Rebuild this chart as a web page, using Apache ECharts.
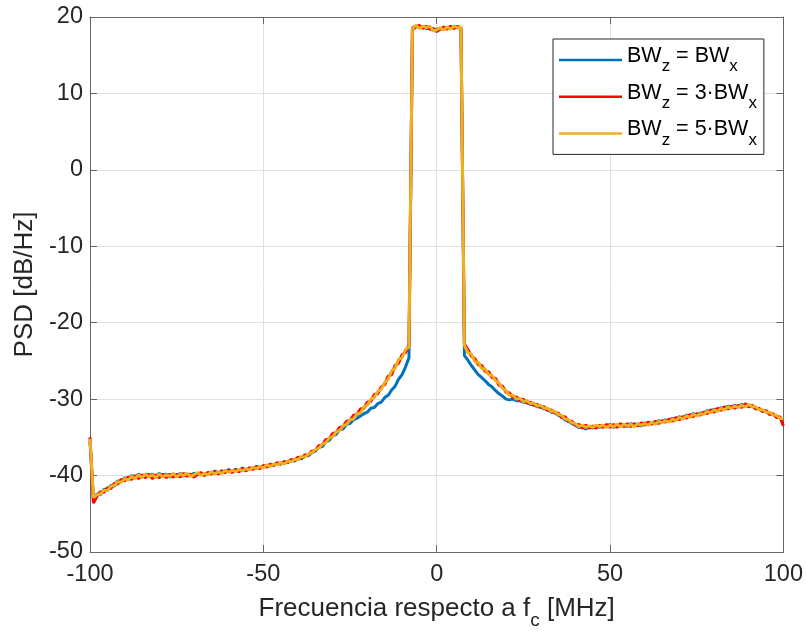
<!DOCTYPE html>
<html>
<head>
<meta charset="utf-8">
<script src="https://cdn.jsdelivr.net/npm/echarts@6/dist/echarts.min.js"></script>
<style>
  html, body { margin: 0; padding: 0; background: #ffffff; }
  #chart { width: 806px; height: 636px; }
</style>
</head>
<body>
<div id="chart"></div>
<script>
// Frequency bins (MHz offset from the carrier), one every 1 MHz from -100 to 100
const FREQ_START_MHZ = -100;
const FREQ_STEP_MHZ = 1;

// PSD [dB/Hz] for BWz = BWx
const psdBwx1 = [
  -35.6,-43.2,-42.4,-42.5,-41.8,-41.9,-41.3,-41.4,-40.7,-40.8,
  -40.3,-40.5,-40.0,-40.3,-39.8,-40.2,-39.8,-40.1,-39.8,-40.2,
  -39.7,-40.1,-39.8,-40.2,-39.8,-40.1,-39.7,-40.1,-39.8,-40.0,
  -39.7,-39.9,-39.7,-39.9,-39.6,-39.7,-39.4,-39.7,-39.4,-39.5,
  -39.2,-39.5,-39.2,-39.4,-39.0,-39.3,-39.0,-39.1,-38.8,-39.0,
  -38.7,-38.8,-38.6,-38.6,-38.4,-38.5,-38.2,-38.3,-38.0,-38.1,
  -37.8,-37.8,-37.4,-37.4,-37.0,-36.8,-36.3,-36.2,-35.6,-35.4,
  -34.8,-34.6,-34.0,-33.9,-33.3,-33.2,-32.7,-32.5,-32.2,-31.9,
  -31.7,-31.2,-31.1,-30.6,-30.4,-29.8,-29.5,-28.8,-28.3,-27.4,
  -26.8,-25.8,-24.6,18.6,18.8,18.6,18.7,18.5,18.6,18.3,
  18.4,18.5,18.4,18.6,18.5,18.7,18.6,18.6,-24.3,-24.9,
  -25.6,-26.2,-26.8,-27.2,-27.6,-28.1,-28.4,-28.9,-29.3,-29.6,
  -30.0,-30.1,-30.0,-30.2,-30.2,-30.4,-30.4,-30.7,-30.7,-31.0,
  -31.0,-31.3,-31.3,-31.7,-31.7,-32.1,-32.3,-32.7,-32.9,-33.2,
  -33.4,-33.7,-33.6,-33.9,-33.6,-33.8,-33.5,-33.7,-33.5,-33.6,
  -33.3,-33.7,-33.4,-33.5,-33.4,-33.6,-33.2,-33.5,-33.3,-33.5,
  -33.1,-33.3,-33.1,-33.2,-32.8,-33.0,-32.7,-32.9,-32.5,-32.7,
  -32.3,-32.5,-32.1,-32.3,-31.9,-32.1,-31.8,-31.9,-31.5,-31.7,
  -31.3,-31.5,-31.1,-31.3,-30.9,-31.1,-30.8,-31.0,-30.7,-30.9,
  -30.8,-30.9,-31.2,-31.3,-31.6,-31.6,-31.9,-32.0,-32.3,-32.4,
  -32.8
];

// PSD [dB/Hz] for BWz = 3·BWx
const psdBwx3 = [
  -35.0,-43.6,-42.7,-42.1,-42.2,-41.6,-41.7,-41.0,-41.1,-40.5,
  -40.7,-40.2,-40.5,-40.0,-40.4,-39.9,-40.3,-39.8,-40.4,-39.9,
  -40.3,-39.8,-40.3,-39.8,-40.2,-39.8,-40.2,-39.7,-40.1,-39.8,
  -40.2,-39.8,-39.6,-40.0,-39.6,-39.8,-39.5,-39.8,-39.4,-39.6,
  -39.3,-39.6,-39.2,-39.5,-39.1,-39.4,-39.0,-39.2,-38.8,-39.1,
  -38.7,-38.9,-38.5,-38.7,-38.3,-38.5,-38.2,-38.3,-37.9,-38.0,
  -37.6,-37.7,-37.3,-37.3,-36.8,-36.7,-36.1,-36.0,-35.3,-35.2,
  -34.5,-34.4,-33.7,-33.6,-32.9,-32.8,-32.1,-32.0,-31.3,-31.2,
  -30.4,-30.3,-29.4,-29.3,-28.4,-28.1,-27.0,-26.8,-25.6,-25.3,
  -24.2,-23.9,-22.9,18.4,18.7,18.9,18.5,18.8,18.4,18.5,
  18.1,18.4,18.7,18.4,18.8,18.5,18.8,18.5,-22.8,-23.5,
  -24.4,-24.7,-25.5,-25.6,-26.4,-26.4,-27.2,-27.3,-28.2,-28.3,
  -29.1,-29.2,-29.8,-29.7,-30.2,-30.0,-30.5,-30.4,-30.8,-30.7,
  -31.1,-31.0,-31.5,-31.4,-31.8,-31.8,-32.4,-32.3,-32.9,-32.9,
  -33.4,-33.3,-33.8,-33.4,-33.8,-33.5,-33.8,-33.4,-33.7,-33.3,
  -33.7,-33.3,-33.7,-33.2,-33.6,-33.2,-33.6,-33.2,-33.5,-33.1,
  -33.4,-33.0,-33.3,-32.9,-33.2,-32.8,-33.0,-32.6,-32.9,-32.4,
  -32.7,-32.3,-32.5,-32.0,-32.3,-31.9,-32.1,-31.7,-31.9,-31.4,
  -31.7,-31.2,-31.5,-31.0,-31.3,-30.9,-31.2,-30.8,-31.1,-30.6,
  -31.0,-30.8,-31.3,-31.2,-31.6,-31.5,-32.0,-31.9,-32.4,-32.3,
  -33.5
];

// PSD [dB/Hz] for BWz = 5·BWx
const psdBwx5 = [
  -35.2,-42.9,-42.5,-42.4,-41.9,-42.0,-41.4,-41.3,-40.8,-40.9,
  -40.4,-40.6,-40.1,-40.4,-39.9,-40.3,-39.8,-40.2,-39.9,-40.3,
  -39.8,-40.2,-39.9,-40.1,-39.7,-40.2,-39.8,-40.0,-39.7,-40.1,
  -39.9,-39.6,-40.0,-39.7,-39.9,-39.5,-39.8,-39.5,-39.7,-39.3,
  -39.6,-39.3,-39.5,-39.2,-39.4,-39.1,-39.3,-38.9,-39.1,-38.8,
  -39.0,-38.6,-38.8,-38.5,-38.6,-38.3,-38.5,-38.1,-38.2,-37.9,
  -37.9,-37.5,-37.6,-37.2,-37.0,-36.6,-36.4,-35.9,-35.7,-35.1,
  -34.9,-34.3,-34.1,-33.5,-33.3,-32.7,-32.6,-31.9,-31.8,-31.0,
  -30.8,-30.0,-29.8,-29.0,-28.7,-27.8,-27.4,-26.3,-26.0,-24.8,
  -24.6,-23.5,-23.2,18.5,18.9,18.5,18.8,18.6,18.8,18.2,
  18.3,18.6,18.3,18.7,18.4,18.8,18.6,18.7,-23.0,-23.9,
  -24.1,-25.1,-25.2,-26.0,-26.1,-26.8,-26.9,-27.6,-27.9,-28.6,
  -28.9,-29.5,-29.5,-30.0,-29.9,-30.3,-30.2,-30.6,-30.5,-30.9,
  -30.8,-31.2,-31.2,-31.6,-31.6,-32.0,-32.1,-32.6,-32.7,-33.1,
  -33.2,-33.6,-33.4,-33.7,-33.5,-33.7,-33.4,-33.6,-33.4,-33.7,
  -33.4,-33.6,-33.3,-33.6,-33.3,-33.5,-33.3,-33.6,-33.2,-33.4,
  -33.2,-33.4,-33.0,-33.3,-32.9,-33.1,-32.8,-33.0,-32.6,-32.8,
  -32.4,-32.6,-32.2,-32.4,-32.0,-32.2,-31.9,-32.0,-31.6,-31.8,
  -31.4,-31.6,-31.2,-31.4,-31.0,-31.2,-30.9,-31.1,-30.8,-31.0,
  -30.7,-31.0,-31.0,-31.4,-31.4,-31.7,-31.7,-32.1,-32.1,-32.5,
  -32.6
];

const seriesNames = ['BWz = BWx', 'BWz = 3·BWx', 'BWz = 5·BWx'];
const seriesColors = ['#0072BD', '#FF0000', '#EDB120'];
// Legend entries with subscripts as rich text
const legendLabels = {
  'BWz = BWx': '{m|BW}{s|z}{m| = BW}{s|x}',
  'BWz = 3·BWx': '{m|BW}{s|z}{m| = 3\u00B7BW}{s|x}',
  'BWz = 5·BWx': '{m|BW}{s|z}{m| = 5\u00B7BW}{s|x}'
};

const xRange = [-100, 100];
const xTickStep = 50;
const yRange = [-50, 20];
const yTickStep = 10;

const FONT = '"Liberation Sans", Arial, Helvetica, sans-serif';
const TEXT_COLOR = '#262626';
const AXIS_COLOR = '#666666';
const GRID_COLOR = '#dfdfdf';

function toPoints(values) {
  return values.map((v, i) => [FREQ_START_MHZ + i * FREQ_STEP_MHZ, v]);
}

const chart = echarts.init(document.getElementById('chart'), null, { renderer: 'canvas' });

const baseAxis = {
  type: 'value',
  axisLine: { show: true, onZero: false, lineStyle: { color: AXIS_COLOR, width: 1 } },
  axisTick: { show: true, inside: true, length: 7, lineStyle: { color: AXIS_COLOR, width: 1 } }
};

chart.setOption({
  animation: false,
  backgroundColor: '#ffffff',
  grid: { left: 90, right: 22, top: 17, bottom: 84, containLabel: false },
  xAxis: [
    Object.assign({}, baseAxis, {
      position: 'bottom',
      min: xRange[0], max: xRange[1], interval: xTickStep,
      axisLabel: { fontFamily: FONT, fontSize: 23.5, color: TEXT_COLOR, margin: 11 },
      splitLine: { show: true, lineStyle: { color: GRID_COLOR, width: 1 } },
      name: '{m|Frecuencia respecto a f}{s|c}{m| [MHz]}',
      nameLocation: 'middle',
      nameGap: 44,
      nameTextStyle: {
        fontFamily: FONT, color: TEXT_COLOR, lineHeight: 34,
        rich: {
          m: { fontFamily: FONT, fontSize: 26, color: TEXT_COLOR, verticalAlign: 'top' },
          s: { fontFamily: FONT, fontSize: 19, color: TEXT_COLOR, verticalAlign: 'bottom' }
        }
      }
    }),
    Object.assign({}, baseAxis, {
      position: 'top',
      min: xRange[0], max: xRange[1], interval: xTickStep,
      axisLabel: { show: false },
      splitLine: { show: false }
    })
  ],
  yAxis: [
    Object.assign({}, baseAxis, {
      position: 'left',
      min: yRange[0], max: yRange[1], interval: yTickStep,
      axisLabel: { fontFamily: FONT, fontSize: 23.5, color: TEXT_COLOR, margin: 7 },
      splitLine: { show: true, lineStyle: { color: GRID_COLOR, width: 1 } },
      name: 'PSD [dB/Hz]',
      nameLocation: 'middle',
      nameRotate: 90,
      nameGap: 49,
      nameTextStyle: { fontFamily: FONT, fontSize: 26, color: TEXT_COLOR }
    }),
    Object.assign({}, baseAxis, {
      position: 'right',
      min: yRange[0], max: yRange[1], interval: yTickStep,
      axisLabel: { show: false },
      splitLine: { show: false }
    })
  ],
  legend: {
    orient: 'vertical',
    left: 553,
    top: 39,
    padding: [6, 7, 6, 6],
    itemWidth: 63,
    itemHeight: 2.5,
    itemGap: 6.7,
    icon: 'rect',
    borderColor: '#262626',
    borderWidth: 1,
    borderRadius: 0,
    backgroundColor: '#ffffff',
    data: seriesNames,
    formatter: name => legendLabels[name],
    textStyle: {
      fontFamily: FONT,
      lineHeight: 30,
      rich: {
        m: { fontFamily: FONT, fontSize: 21.5, color: '#000000', verticalAlign: 'top' },
        s: { fontFamily: FONT, fontSize: 17, color: '#000000', verticalAlign: 'bottom' }
      }
    }
  },
  series: [psdBwx1, psdBwx3, psdBwx5].map((vals, k) => ({
    name: seriesNames[k],
    type: 'line',
    xAxisIndex: 0,
    yAxisIndex: 0,
    data: toPoints(vals),
    showSymbol: false,
    symbol: 'none',
    smooth: false,
    color: seriesColors[k],
    itemStyle: { color: seriesColors[k] },
    lineStyle: { color: seriesColors[k], width: 3, join: 'bevel' },
    z: 2 + k
  }))
});
</script>
</body>
</html>
